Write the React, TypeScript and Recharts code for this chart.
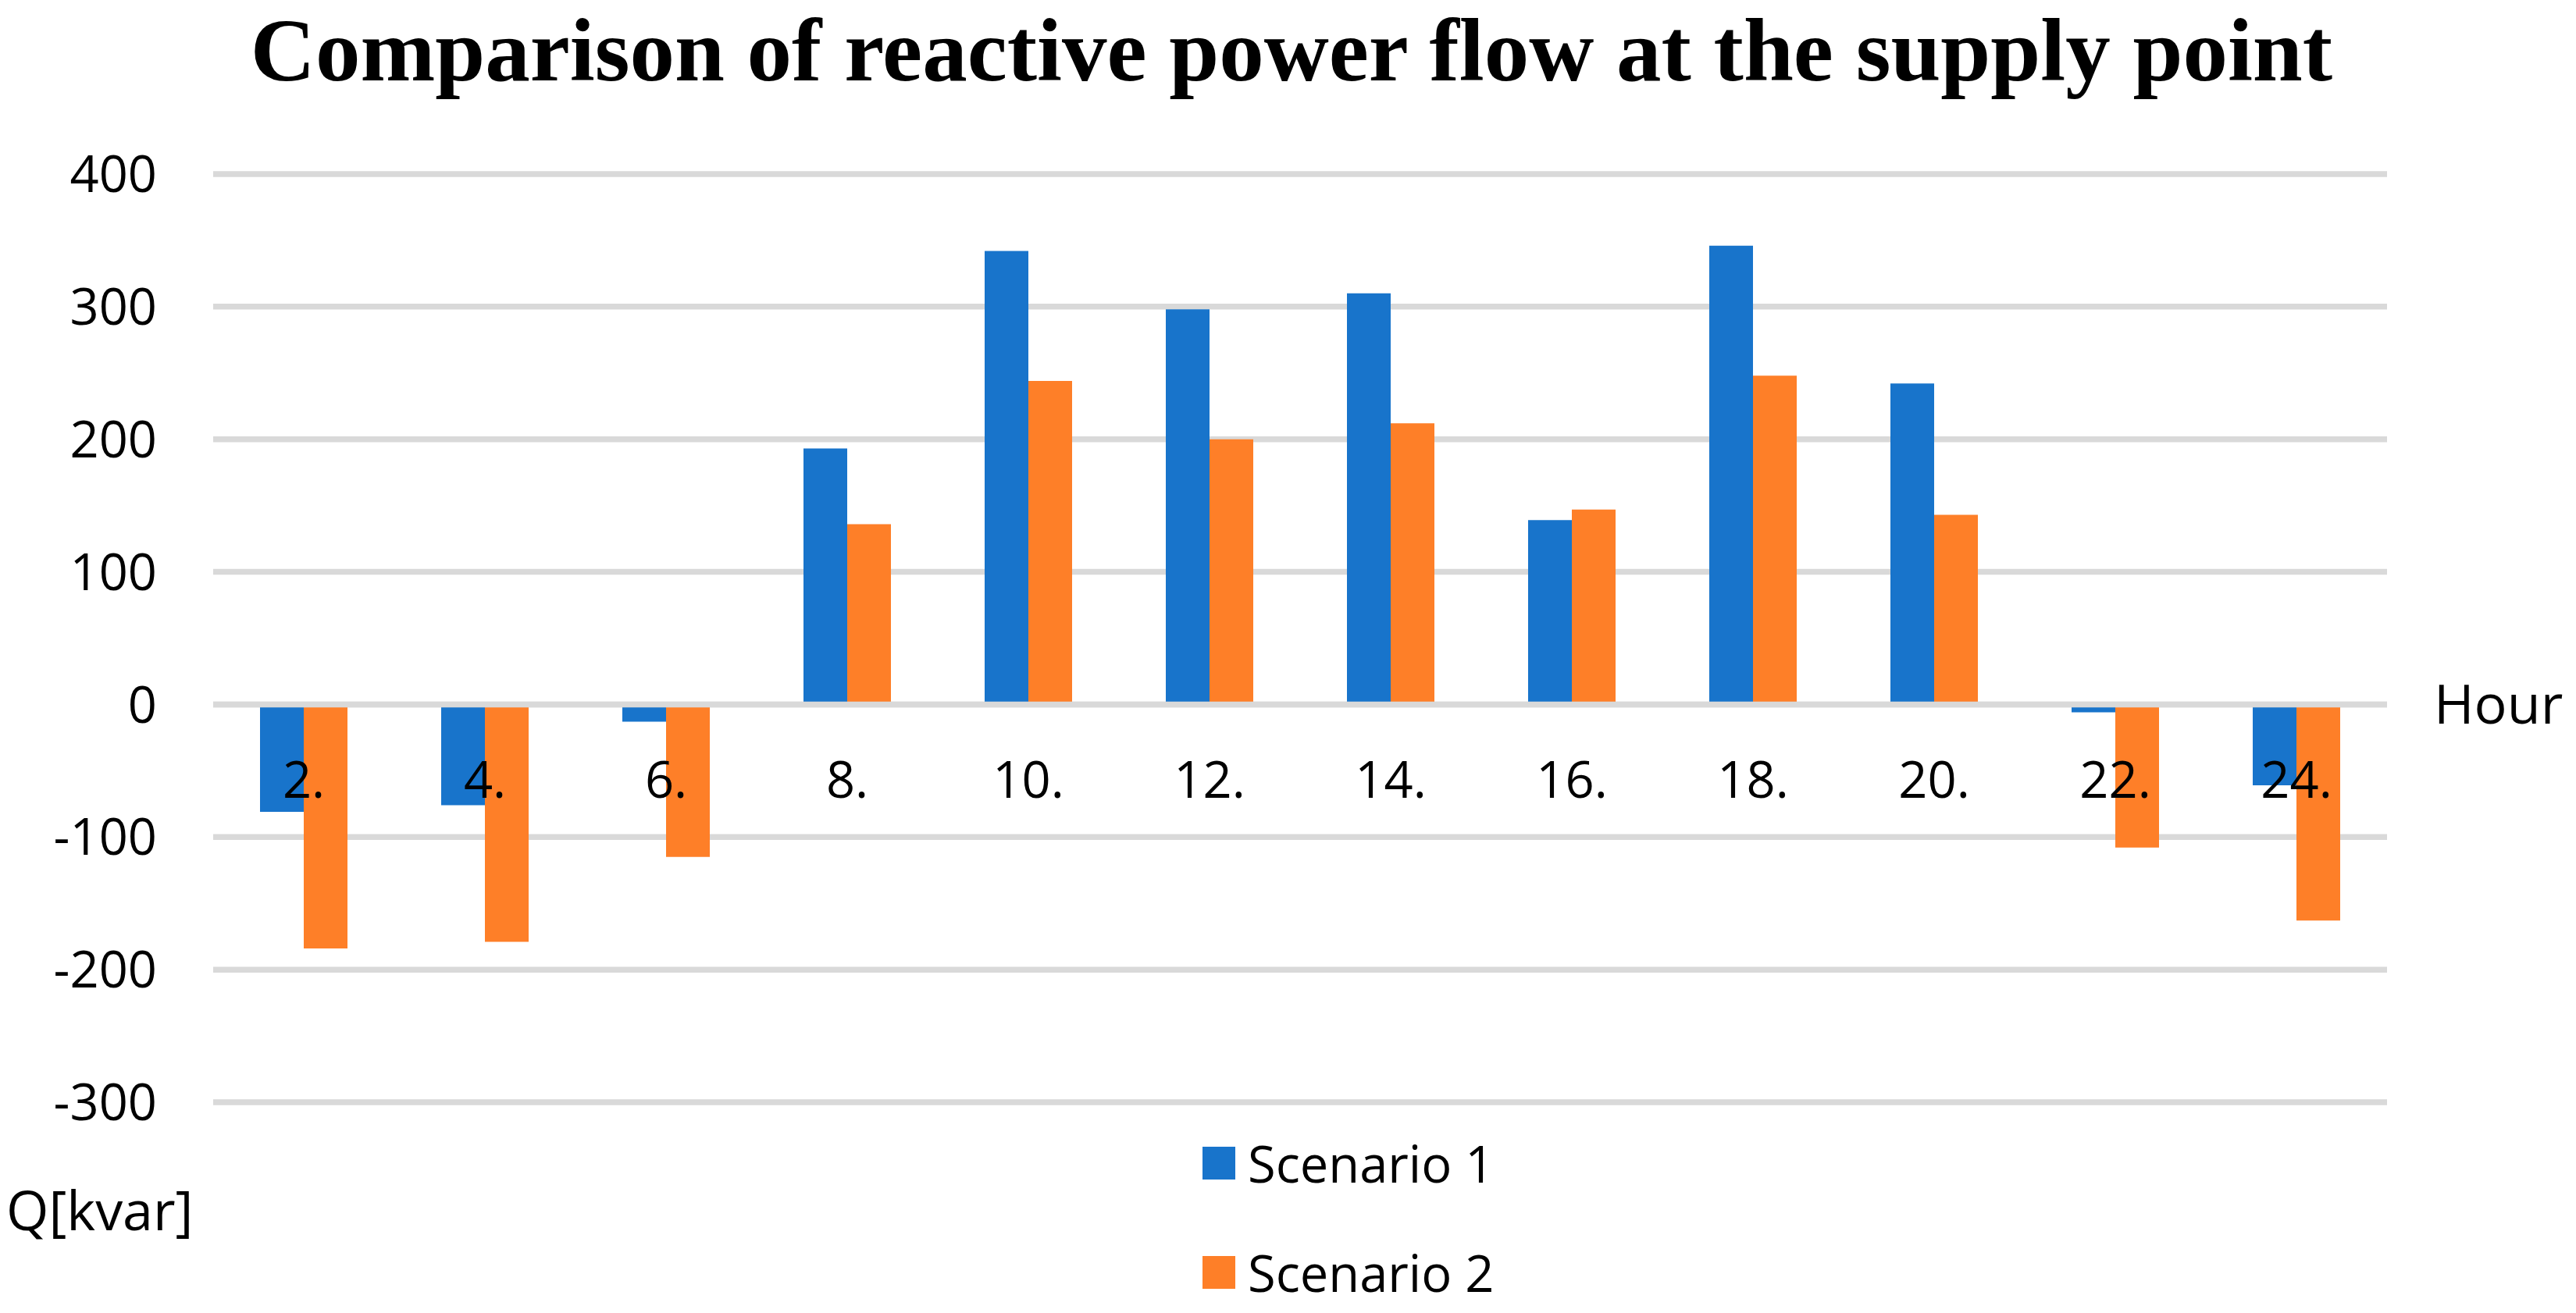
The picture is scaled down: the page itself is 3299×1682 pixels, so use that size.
import React from 'react';
import { BarChart, Bar, XAxis, YAxis, CartesianGrid, ReferenceLine, Legend } from 'recharts';

const hours = ['2.', '4.', '6.', '8.', '10.', '12.', '14.', '16.', '18.', '20.', '22.', '24.'];
const scenario1 = [-81, -76, -13, 193, 342, 298, 310, 139, 346, 242, -6, -61];
const scenario2 = [-184, -179, -115, 136, 244, 200, 212, 147, 248, 143, -108, -163];
const yTicks = [-300, -200, -100, 0, 100, 200, 300, 400];
const seriesNames = ['Scenario 1', 'Scenario 2'];
const titleText = 'Comparison of reactive power flow at the supply point';
const xAxisTitle = 'Hour';
const yAxisTitle = 'Q[kvar]';

const data = hours.map((h, i) => ({ hour: h, s1: scenario1[i], s2: scenario2[i] }));

const W = 3299;
const H = 1682;
const M_TOP = 223;
const M_BOTTOM = 269;
const M_RIGHT = 242;
const Y_AXIS_W = 273;
const Y_MIN = -300;
const Y_MAX = 400;
const PLOT_H = H - M_TOP - M_BOTTOM;
const ZERO_Y = M_TOP + (PLOT_H * Y_MAX) / (Y_MAX - Y_MIN);

const FONT = '"Open Sans", sans-serif';
const BLUE = '#1874CB';
const ORANGE = '#FE7F28';
const GRID = '#D9D9D9';
const TICK_FS = 65;

const XTick = (props: any) => {
  const { x, payload } = props;
  return (
    <text x={x} y={ZERO_Y + 119} textAnchor="middle" fontFamily={FONT} fontSize={TICK_FS} fill="#000">
      {payload.value}
    </text>
  );
};

const renderLegend = (props: any) => {
  const { payload } = props;
  return (
    <div>
      {(payload || []).map((entry: any) => (
        <div key={entry.value} style={{ display: 'flex', alignItems: 'center', height: 140 }}>
          <span style={{ display: 'inline-block', width: 42, height: 42, background: entry.color, marginRight: 16 }} />
          <span style={{ fontFamily: FONT, fontSize: TICK_FS, lineHeight: '140px', color: '#000' }}>{entry.value}</span>
        </div>
      ))}
    </div>
  );
};

export default function App() {
  return (
    <div style={{ position: 'absolute', left: 0, top: 0, width: W, height: H, background: '#fff' }}>
      <BarChart
        width={W}
        height={H}
        data={data}
        margin={{ top: M_TOP, right: M_RIGHT, bottom: M_BOTTOM, left: 0 }}
        barGap={0}
      >
        <CartesianGrid vertical={false} stroke={GRID} strokeWidth={7.5} />
        <YAxis
          width={Y_AXIS_W}
          domain={[Y_MIN, Y_MAX]}
          ticks={yTicks}
          axisLine={false}
          tickLine={false}
          tickSize={0}
          tickMargin={72}
          tick={{ fontFamily: FONT, fontSize: TICK_FS, fill: '#000' }}
          interval={0}
        />
        <Bar dataKey="s1" name={seriesNames[0]} fill={BLUE} barSize={56} isAnimationActive={false} />
        <Bar dataKey="s2" name={seriesNames[1]} fill={ORANGE} barSize={56} isAnimationActive={false} />
        <ReferenceLine
          y={0}
          stroke={GRID}
          strokeWidth={7.5}
          label={{ value: xAxisTitle, position: 'right', offset: 60, fontFamily: FONT, fontSize: 70, fill: '#000' }}
        />
        <XAxis dataKey="hour" axisLine={false} tickLine={false} tick={<XTick />} interval={0} height={1} />
        <Legend
          layout="vertical"
          align="center"
          verticalAlign="middle"
          content={renderLegend}
          wrapperStyle={{ left: 1540, top: 1420, width: 500, right: 'auto', bottom: 'auto' }}
        />
      </BarChart>
      <svg
        width={W}
        height={H}
        style={{ position: 'absolute', left: 0, top: 0, pointerEvents: 'none' }}
      >
        <text
          x={1654}
          y={103}
          textAnchor="middle"
          fontFamily='"Liberation Serif", "Times New Roman", serif'
          fontWeight="bold"
          fontSize={115}
          fill="#000"
        >
          {titleText}
        </text>
        <text x={8} y={1576} fontFamily={FONT} fontSize={70} fill="#000">
          {yAxisTitle}
        </text>
      </svg>
    </div>
  );
}
